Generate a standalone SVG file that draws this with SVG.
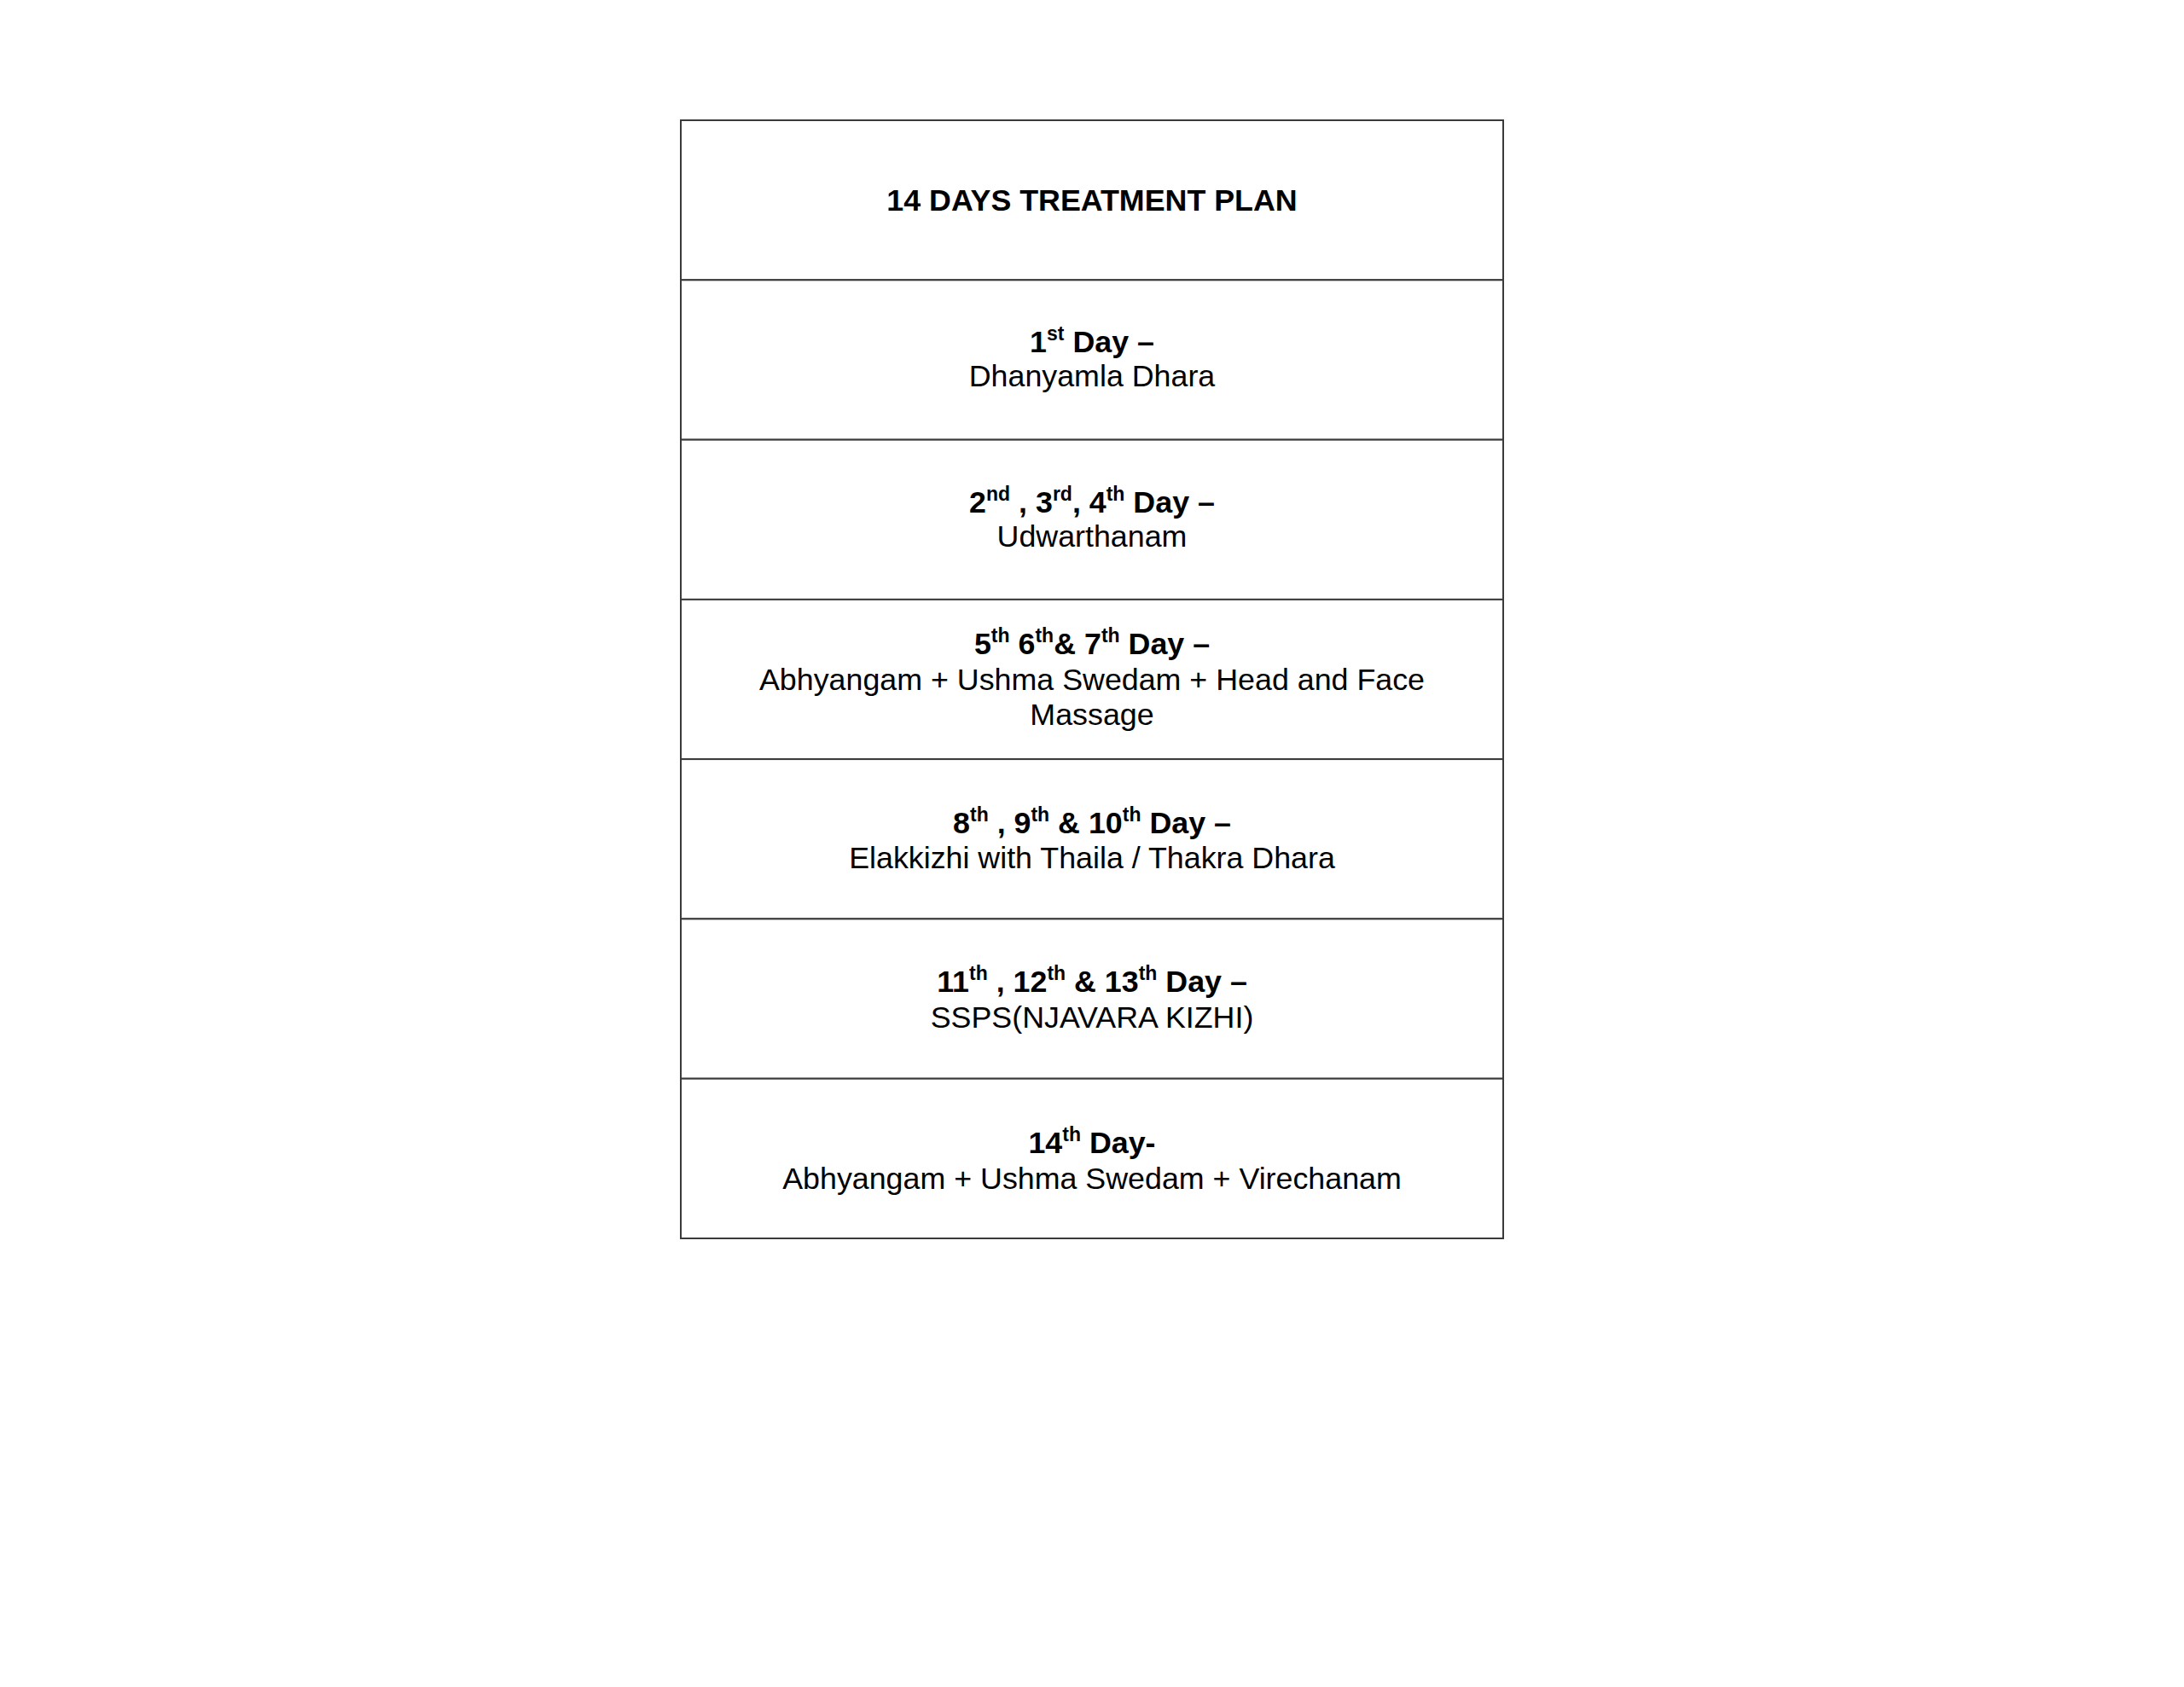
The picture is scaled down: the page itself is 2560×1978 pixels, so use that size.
<svg xmlns="http://www.w3.org/2000/svg" width="2560" height="1978" viewBox="0 0 2560 1978">
<style>
.cell{fill:#ffffff;stroke:#3a3a3a;stroke-width:2}
text{font-family:"Liberation Sans",Arial,sans-serif;font-size:35.8px;fill:#000000;text-anchor:middle}
.b{font-weight:bold}
.sup{font-size:23px}
</style>
<rect x="0" y="0" width="2560" height="1978" fill="#ffffff"/>
<g id="row-title">
<rect class="cell" x="798" y="141" width="964" height="187.3"/>
<text class="b" x="1280" y="247">14 DAYS TREATMENT PLAN</text>
</g>
<g id="row-day1">
<rect class="cell" x="798" y="328.3" width="964" height="187.3"/>
<text class="b" x="1280" y="413">1<tspan class="sup" dy="-14">st</tspan><tspan dy="14"> Day –</tspan></text>
<text x="1280" y="453">Dhanyamla Dhara</text>
</g>
<g id="row-day2-4">
<rect class="cell" x="798" y="515.6" width="964" height="187.3"/>
<text class="b" x="1280" y="601">2<tspan class="sup" dy="-14">nd</tspan><tspan dy="14"> , 3</tspan><tspan class="sup" dy="-14">rd</tspan><tspan dy="14">, 4</tspan><tspan class="sup" dy="-14">th</tspan><tspan dy="14"> Day –</tspan></text>
<text x="1280" y="641">Udwarthanam</text>
</g>
<g id="row-day5-7">
<rect class="cell" x="798" y="702.9" width="964" height="187.3"/>
<text class="b" x="1280" y="767">5<tspan class="sup" dy="-14">th</tspan><tspan dy="14"> 6</tspan><tspan class="sup" dy="-14">th</tspan><tspan dy="14">&amp; 7</tspan><tspan class="sup" dy="-14">th</tspan><tspan dy="14"> Day –</tspan></text>
<text x="1280" y="809">Abhyangam + Ushma Swedam + Head and Face</text>
<text x="1280" y="850">Massage</text>
</g>
<g id="row-day8-10">
<rect class="cell" x="798" y="890.1" width="964" height="187.3"/>
<text class="b" x="1280" y="977">8<tspan class="sup" dy="-14">th</tspan><tspan dy="14"> , 9</tspan><tspan class="sup" dy="-14">th</tspan><tspan dy="14"> &amp; 10</tspan><tspan class="sup" dy="-14">th</tspan><tspan dy="14"> Day –</tspan></text>
<text x="1280" y="1018">Elakkizhi with Thaila / Thakra Dhara</text>
</g>
<g id="row-day11-13">
<rect class="cell" x="798" y="1077.4" width="964" height="187.3"/>
<text class="b" x="1280" y="1163">11<tspan class="sup" dy="-14">th</tspan><tspan dy="14"> , 12</tspan><tspan class="sup" dy="-14">th</tspan><tspan dy="14"> &amp; 13</tspan><tspan class="sup" dy="-14">th</tspan><tspan dy="14"> Day –</tspan></text>
<text x="1280" y="1205">SSPS(NJAVARA KIZHI)</text>
</g>
<g id="row-day14">
<rect class="cell" x="798" y="1264.7" width="964" height="187.3"/>
<text class="b" x="1280" y="1352">14<tspan class="sup" dy="-14">th</tspan><tspan dy="14"> Day-</tspan></text>
<text x="1280" y="1394">Abhyangam + Ushma Swedam + Virechanam</text>
</g>
<g id="connectors"></g>
</svg>
